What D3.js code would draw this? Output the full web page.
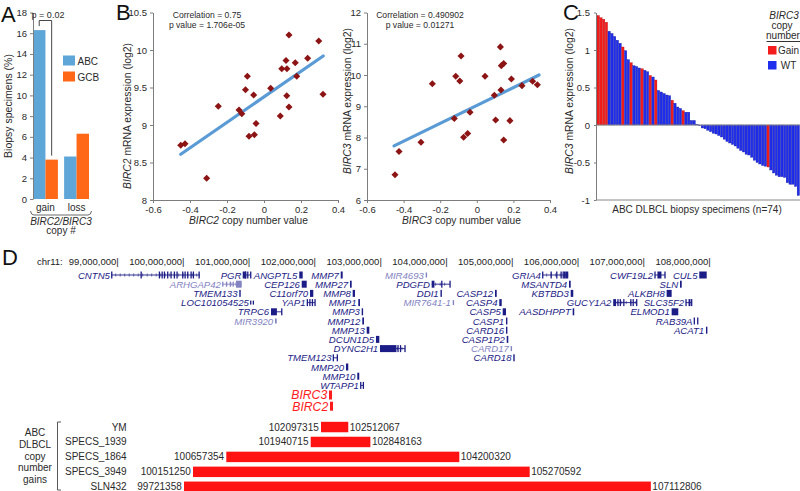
<!DOCTYPE html>
<html>
<head>
<meta charset="utf-8">
<script src="https://cdn.jsdelivr.net/npm/d3@7"></script>
<style>
body { margin: 0; background: #fff; }
svg { display: block; }
</style>
</head>
<body>
<svg id="fig" width="800" height="491"></svg>
<script>
// ---------- panel A: CNV frequency ----------
const cnvGroups = ["gain", "loss"];
const subtypes = ["ABC", "GCB"];
const abcPct = [16.3, 4.1];
const gcbPct = [3.8, 6.3];
const pctTicks = [0, 2, 4, 6, 8, 10, 12, 14, 16, 18];

// ---------- panel B: copy number vs expression ----------
const birc2Copy = [-0.45, -0.427, -0.31, -0.247, -0.135, -0.12, -0.1, -0.09, -0.081, -0.056, -0.052, -0.043,
  0.036, 0.088, 0.096, 0.119, 0.124, 0.123, 0.135, 0.135, 0.169, 0.177, 0.236, 0.296, 0.319];
const birc2Expr = [8.73, 8.75, 8.29, 9.25, 9.2, 9.15, 9.47, 9.65, 8.85, 9.4, 8.87, 9.02,
  9.49, 9.12, 9.75, 9.86, 9.75, 9.39, 9.24, 10.2, 9.83, 9.65, 9.89, 10.12, 9.41];
const birc2Fit = [[-0.45, 8.61], [0.32, 9.92]];
const birc3Copy = [-0.447, -0.425, -0.305, -0.243, -0.123, -0.115, -0.093, -0.086, -0.072, -0.05, -0.037, 0.045,
  0.096, 0.103, 0.129, 0.132, 0.134, 0.147, 0.147, 0.181, 0.189, 0.247, 0.305, 0.331];
const birc3Expr = [6.81, 7.55, 7.85, 9.72, 8.61, 9.96, 9.81, 10.61, 8.01, 8.13, 8.81, 9.96,
  9.35, 8.56, 10.9, 9.52, 10.3, 10.37, 7.92, 8.54, 9.87, 9.66, 9.8, 9.69];
const birc3Fit = [[-0.452, 7.73], [0.34, 10.0]];

// ---------- panel C: waterfall ----------
const waterfallExpr = [1.46, 1.43, 1.41, 1.37, 1.25, 1.22, 1.18, 1.13, 1.09, 1.04, 0.99, 0.87, 0.83, 0.79,
  0.78, 0.76, 0.75, 0.73, 0.71, 0.66, 0.64, 0.60, 0.46, 0.44, 0.42, 0.40, 0.39, 0.33, 0.29, 0.24,
  0.22, 0.19, 0.17, 0.17, 0.06, 0.06, 0.01, -0.01,
  -0.04, -0.05, -0.07, -0.09, -0.11, -0.12, -0.14, -0.16, -0.19, -0.22, -0.24, -0.26, -0.28, -0.31,
  -0.34, -0.36, -0.39, -0.40, -0.43, -0.47, -0.50, -0.52, -0.54, -0.55, -0.56, -0.60, -0.64, -0.67,
  -0.69, -0.69, -0.70, -0.77, -0.79, -0.79, -0.82, -0.94];
const gainIdx = [0, 1, 2, 3, 9, 12, 16, 19, 21, 27, 31, 62];
const statusLabels = ["Gain", "WT"];
const expTicks = [-1, -0.5, 0, 0.5, 1, 1.5];

// ---------- panel D: chr11 genes (Mb), lane, kind 0=gene 1=predicted 2=highlight ----------
const rulerTicks = [99e6, 100e6, 101e6, 102e6, 103e6, 104e6, 105e6, 106e6, 107e6, 108e6];
const genes = [
  ["CNTN5", 1, 98.915, 100.257, 0], ["PGR", 1, 100.916, 101.028, 0], ["ANGPTL5", 1, 101.767, 101.819, 0],
  ["MMP7", 1, 102.397, 102.427, 0], ["MIR4693", 1, 103.689, 103.704, 1], ["GRIA4", 1, 105.468, 105.857, 0],
  ["CWF19L2", 1, 107.175, 107.327, 0], ["CUL5", 1, 107.849, 107.962, 0],
  ["ARHGAP42", 2, 100.603, 100.891, 1], ["CEP126", 2, 101.804, 101.880, 0], ["MMP27", 2, 102.538, 102.564, 0],
  ["PDGFD", 2, 103.780, 104.059, 0], ["MSANTD4", 2, 105.868, 105.894, 0], ["SLN", 2, 107.556, 107.582, 0],
  ["TMEM133", 3, 100.855, 100.876, 0], ["C11orf70", 3, 101.930, 101.980, 0], ["MMP8", 3, 102.579, 102.614, 0],
  ["DDI1", 3, 103.914, 103.935, 0], ["CASP12", 3, 104.743, 104.769, 0], ["KBTBD3", 3, 105.894, 105.933, 0],
  ["ALKBH8", 3, 107.353, 107.429, 0],
  ["LOC101054525", 4, 101.028, 101.068, 0], ["YAP1", 4, 101.889, 102.006, 0], ["MMP1", 4, 102.664, 102.690, 0],
  ["MIR7641-1", 4, 104.100, 104.115, 1], ["CASP4", 4, 104.808, 104.845, 0], ["GUCY1A2", 4, 106.541, 106.897, 0],
  ["SLC35F2", 4, 107.647, 107.733, 0],
  ["TRPC6", 5, 101.337, 101.500, 0], ["MMP3", 5, 102.716, 102.731, 0], ["CASP5", 5, 104.860, 104.910, 0],
  ["AASDHPPT", 5, 105.924, 105.948, 0], ["ELMOD1", 5, 107.429, 107.530, 0],
  ["MIR3920", 6, 101.398, 101.424, 1], ["MMP12", 6, 102.725, 102.751, 0], ["CASP1", 6, 104.910, 104.930, 0],
  ["RAB39A", 6, 107.773, 107.825, 0],
  ["MMP13", 7, 102.792, 102.832, 0], ["CARD16", 7, 104.910, 104.930, 0], ["ACAT1", 7, 107.951, 107.971, 0],
  ["DCUN1D5", 8, 102.933, 102.984, 0], ["CASP1P2", 8, 104.921, 104.945, 0],
  ["DYNC2H1", 9, 102.994, 103.374, 0], ["CARD17", 9, 104.981, 105.001, 1],
  ["TMEM123", 10, 102.284, 102.345, 0], ["CARD18", 10, 105.021, 105.036, 0],
  ["MMP20", 11, 102.477, 102.512, 0], ["MMP10", 12, 102.649, 102.679, 0], ["WTAPP1", 13, 102.701, 102.741, 0],
  ["BIRC3", 14, 102.219, 102.265, 2], ["BIRC2", 15, 102.234, 102.280, 2]
];
// exon marks (fraction along gene) and solid parts for multi-exon genes
const geneExons = {
  CNTN5: [0, 0.333, 0.54, 0.571, 0.597, 0.634, 0.672, 0.71, 0.74, 0.804, 0.831, 0.861, 0.899, 0.925, 0.99],
  ARHGAP42: [0, 0.2, 0.4, 0.55], PGR: [0, 0.3, 0.6, 1], YAP1: [0, 0.33, 0.66, 1], TRPC6: [1],
  PDGFD: [0.55, 1], GRIA4: [0, 0.33, 0.55, 0.72, 0.8, 0.85], GUCY1A2: [0.2, 0.3, 0.45, 0.75, 0.85, 1],
  CWF19L2: [0, 1], DYNC2H1: [0.72, 0.82, 1], TMEM123: [0, 1], WTAPP1: [0, 1], RAB39A: [0, 1],
  SLC35F2: [0, 1], LOC101054525: [0, 1]
};
const geneSolid = {
  ARHGAP42: [0.7, 1], PGR: [0.1, 0.4], TRPC6: [0, 0.55], PDGFD: [0, 0.15], GRIA4: [0.88, 1],
  GUCY1A2: [0, 0.12], CWF19L2: [0.25, 0.65], DYNC2H1: [0, 0.66], SLC35F2: [0.45, 0.8]
};

// ---------- panel D: copy number gains ----------
const gainSamples = ["YM", "SPECS_1939", "SPECS_1864", "SPECS_3949", "SLN432"];
const gainStart = [102097315, 101940715, 100657354, 100151250, 99721358];
const gainEnd = [102512067, 102848163, 104200320, 105270592, 107112806];
const gainGroupLines = ["ABC", "DLBCL", "copy", "number", "gains"];

// ======================================================================
const FONT = '"Liberation Sans", Arial, Helvetica, sans-serif';
const TXT = "#2a2a2a";
const AX = "#7d7d7d";
const svg = d3.select("#fig").attr("font-family", FONT);
svg.append("rect").attr("width", 800).attr("height", 491).attr("fill", "#fff");

function styleAxis(g, fs) {
  g.select(".domain").attr("stroke", AX);
  g.selectAll(".tick line").attr("stroke", AX);
  g.selectAll(".tick text").attr("fill", TXT).attr("font-size", fs).attr("font-family", FONT);
}
const numFmt = d => String(+d.toFixed(1));

// text with italic pieces: parts = [[str, italic], ...]
function richText(g, x, y, parts, size, anchor, rotate) {
  const t = g.append("text").attr("font-size", size).attr("fill", TXT)
    .attr("text-anchor", anchor || "middle");
  if (rotate) t.attr("transform", `translate(${x},${y}) rotate(-90)`);
  else t.attr("x", x).attr("y", y);
  parts.forEach(p => t.append("tspan").text(p[0]).attr("font-style", p[1] ? "italic" : null));
  return t;
}
function letter(s, x, y) {
  svg.append("text").attr("x", x).attr("y", y).attr("font-size", 22).attr("fill", "#111").text(s);
}

// ---------------- A ----------------
letter("A", 1, 22);
const gA = svg.append("g");
const yA = d3.scaleLinear([0, 18], [199, 12.5]);
const xA = d3.scaleBand(cnvGroups, [33, 89]).paddingInner(0.2);
const xSub = d3.scaleBand(subtypes, [0, xA.bandwidth()]);
const subColor = d3.scaleOrdinal(subtypes, ["#5ea6d8", "#ff6816"]);
const aData = cnvGroups.flatMap((g, i) => [{ g, s: "ABC", v: abcPct[i] }, { g, s: "GCB", v: gcbPct[i] }]);
gA.selectAll("rect.bar").data(aData).join("rect")
  .attr("x", d => xA(d.g) + xSub(d.s)).attr("y", d => yA(d.v))
  .attr("width", xSub.bandwidth()).attr("height", d => yA(0) - yA(d.v))
  .attr("fill", d => subColor(d.s));
gA.append("g").attr("transform", "translate(33,0)")
  .call(d3.axisLeft(yA).tickValues(pctTicks).tickSize(3).tickSizeOuter(0).tickPadding(3))
  .call(g => styleAxis(g, 9.5));
richText(gA, 12, 106, [["Biopsy specimens (%)", false]], 10.5, "middle", true);
gA.selectAll("text.grp").data(cnvGroups).join("text")
  .attr("x", d => xA(d) + xA.bandwidth() / 2).attr("y", 211)
  .attr("text-anchor", "middle").attr("font-size", 10).attr("fill", TXT).text(d => d);
gA.append("path").attr("d", "M30.5,211 Q31,215 34,215 H88 Q91,215 91.5,211")
  .attr("fill", "none").attr("stroke", "#444").attr("stroke-width", 0.8);
richText(gA, 61, 224.5, [["BIRC2/BIRC3", true]], 10, "middle");
richText(gA, 61, 234, [["copy #", false]], 10, "middle");
// p-value bracket between ABC and GCB gain
const pxL = xA("gain") + xSub("ABC") + xSub.bandwidth() / 2;
const pxR = xA("gain") + xSub("GCB") + xSub.bandwidth() / 2;
const pyTop = 20.5;
gA.append("path")
  .attr("d", `M${pxL},${yA(abcPct[0]) - 4} V${pyTop} H${pxR} V${yA(gcbPct[0]) - 4}`)
  .attr("fill", "none").attr("stroke", "#333").attr("stroke-width", 0.9);
gA.append("text").attr("x", 48).attr("y", 18).attr("text-anchor", "middle")
  .attr("font-size", 9).attr("fill", TXT).text("p = 0.02");
subtypes.forEach((s, i) => {
  gA.append("rect").attr("x", 63).attr("y", 55.5 + i * 16).attr("width", 12).attr("height", 10).attr("fill", subColor(s));
  gA.append("text").attr("x", 77.5).attr("y", 64.5 + i * 16).attr("font-size", 10).attr("fill", TXT).text(s);
});

// ---------------- B ----------------
letter("B", 116, 20);
function scatter(opt) {
  const g = svg.append("g");
  const x = d3.scaleLinear([-0.6, 0.4], opt.xr);
  const y = d3.scaleLinear(opt.yd, [200, 12.5]);
  g.append("g").attr("transform", `translate(0,200)`)
    .call(d3.axisBottom(x).tickValues([-0.6, -0.4, -0.2, 0, 0.2, 0.4]).tickFormat(numFmt).tickSize(3).tickSizeOuter(0))
    .call(a => styleAxis(a, 9.5));
  g.append("g").attr("transform", `translate(${opt.xr[0]},0)`)
    .call(d3.axisLeft(y).tickValues(opt.yt).tickFormat(numFmt).tickSize(3).tickSizeOuter(0))
    .call(a => styleAxis(a, 9.5));
  g.append("line")
    .attr("x1", x(opt.fit[0][0])).attr("y1", y(opt.fit[0][1]))
    .attr("x2", x(opt.fit[1][0])).attr("y2", y(opt.fit[1][1]))
    .attr("stroke", "#5b9bd5").attr("stroke-width", 3.2).attr("stroke-linecap", "round");
  const diamond = d3.symbol(d3.symbolSquare, 25)();
  g.selectAll("path.pt").data(opt.xs.map((v, i) => [v, opt.ys[i]])).join("path")
    .attr("d", diamond).attr("fill", "#8c1414")
    .attr("transform", d => `translate(${x(d[0])},${y(d[1])}) rotate(45)`);
  g.append("text").attr("x", opt.cx).attr("y", 18).attr("text-anchor", "middle")
    .attr("font-size", 8.6).attr("fill", TXT).text(opt.corr);
  g.append("text").attr("x", opt.cx).attr("y", 28).attr("text-anchor", "middle")
    .attr("font-size", 8.6).attr("fill", TXT).text(opt.pval);
  richText(g, opt.yl[0], opt.yl[1], [[opt.gene, true], [" mRNA expression (log2)", false]], 10.4, "middle", true);
  richText(g, (opt.xr[0] + opt.xr[1]) / 2 + 3, 224, [[opt.gene, true], [" copy number value", false]], 10.2, "middle");
}
scatter({ xr: [153, 338], yd: [8, 10.5], yt: [8, 8.5, 9, 9.5, 10, 10.5], xs: birc2Copy, ys: birc2Expr,
  fit: birc2Fit, cx: 207, corr: "Correlation = 0.75", pval: "p value = 1.706e-05", gene: "BIRC2", yl: [131, 116] });
scatter({ xr: [367, 550], yd: [6, 12], yt: [6, 7, 8, 9, 10, 11, 12], xs: birc3Copy, ys: birc3Expr,
  fit: birc3Fit, cx: 420, corr: "Correlation = 0.490902", pval: "p value = 0.01271", gene: "BIRC3", yl: [351, 101] });

// ---------------- C ----------------
letter("C", 563, 20);
const gC = svg.append("g");
const xC = d3.scaleBand(d3.range(waterfallExpr.length), [597, 799.5]).paddingInner(0.14);
const yC = d3.scaleLinear([-1, 1.5], [200, 12.5]);
const statusColor = d3.scaleOrdinal(statusLabels, ["#f41c1c", "#1f2ded"]);
const wfData = waterfallExpr.map((v, i) => ({ i, v, s: gainIdx.includes(i) ? "Gain" : "WT" }));
gC.selectAll("rect.wf").data(wfData).join("rect")
  .attr("x", d => xC(d.i)).attr("width", xC.bandwidth())
  .attr("y", d => yC(Math.max(0, d.v))).attr("height", d => Math.abs(yC(d.v) - yC(0)))
  .attr("fill", d => statusColor(d.s))
  .attr("stroke", d => d.s === "Gain" ? "#b01010" : "#12189a").attr("stroke-width", 0.35);
gC.append("line").attr("x1", 596).attr("x2", 800).attr("y1", yC(0)).attr("y2", yC(0)).attr("stroke", "#888");
gC.append("line").attr("x1", 596).attr("x2", 800).attr("y1", yC(-1)).attr("y2", yC(-1)).attr("stroke", "#888");
gC.append("g").attr("transform", "translate(596,0)")
  .call(d3.axisLeft(yC).tickValues(expTicks).tickFormat(numFmt).tickSize(2).tickSizeOuter(0).tickPadding(4))
  .call(a => styleAxis(a, 9.5));
richText(gC, 573, 101, [["BIRC3", true], [" mRNA expression (log2)", false]], 10.4, "middle", true);
richText(gC, 697, 213, [["ABC DLBCL biopsy specimens (n=74)", false]], 10, "middle");
richText(gC, 784, 18.5, [["BIRC3", true]], 10, "middle");
richText(gC, 782, 28.5, [["copy", false]], 10, "middle");
richText(gC, 783, 38.5, [["number", false]], 10, "middle");
gC.append("line").attr("x1", 766.5).attr("x2", 800).attr("y1", 41.5).attr("y2", 41.5).attr("stroke", "#333");
statusLabels.forEach((s, i) => {
  gC.append("rect").attr("x", 768).attr("y", 46 + i * 15).attr("width", 8.5).attr("height", 8.5).attr("fill", statusColor(s));
  gC.append("text").attr("x", 788.5).attr("y", 54 + i * 15).attr("text-anchor", "middle")
    .attr("font-size", 10).attr("fill", TXT).text(s);
});

// ---------------- D ----------------
letter("D", 2, 265);
const gD = svg.append("g");
const xG = d3.scaleLinear([99e6, 108e6], [117.3, 709.2]);
gD.append("text").attr("x", 37).attr("y", 264.5).attr("font-size", 9.5).attr("fill", "#222").text("chr11:");
gD.selectAll("text.rt").data(rulerTicks).join("text")
  .attr("x", d => xG(d) + 1.5).attr("y", 264.5).attr("text-anchor", "end")
  .attr("font-size", 9.5).attr("fill", "#222").text(d => d3.format(",")(d) + "|");

const laneY = r => r <= 13 ? 275 + (r - 1) * 9.2 : 383.8 + (r - 13) * 11.2;
const kindColor = ["#1c1c86", "#8383c2", "#ff1c1c"];
genes.forEach(([name, row, s, e, kind]) => {
  const y = laneY(row);
  const col = kindColor[kind];
  const x0 = xG(s * 1e6);
  const x1 = Math.max(xG(e * 1e6), x0 + 1.4);
  const w = x1 - x0;
  const g = gD.append("g");
  g.append("text").attr("x", x0 - 1.8).attr("y", y + (kind === 2 ? 4.3 : 3.5))
    .attr("text-anchor", "end").attr("font-style", "italic")
    .attr("font-size", kind === 2 ? 12.2 : 9.6).attr("fill", col).text(name);
  const ex = geneExons[name], solid = geneSolid[name];
  const h = kind === 1 ? 5 : name === "LOC101054525" ? 4 : 7;
  if (ex || solid) {
    if (name !== "LOC101054525" && name !== "RAB39A")
      g.append("line").attr("x1", x0).attr("x2", x1).attr("y1", y).attr("y2", y).attr("stroke", col).attr("stroke-width", 0.9);
    if (w > 15) {
      // intron direction marks
      d3.range(x0 + 4, x1 - 1, 4.5).forEach(tx => g.append("line")
        .attr("x1", tx).attr("x2", tx).attr("y1", y - 1.6).attr("y2", y + 1.6)
        .attr("stroke", col).attr("stroke-width", 0.6));
    }
    (ex || []).forEach(f => g.append("rect").attr("x", x0 + f * w - 0.6).attr("y", y - h / 2)
      .attr("width", 1.3).attr("height", h).attr("fill", col));
    if (solid) g.append("rect").attr("x", x0 + solid[0] * w).attr("y", y - 3.5)
      .attr("width", (solid[1] - solid[0]) * w).attr("height", 7).attr("fill", col);
  } else {
    g.append("rect").attr("x", x0).attr("y", y - (kind === 2 ? 4.5 : h / 2)).attr("width", w)
      .attr("height", kind === 2 ? 9 : h).attr("fill", col);
  }
});

// copy number gain segments
const yS = d3.scaleBand(gainSamples, [421.8, 492]).paddingInner(0.3);
gainGroupLines.forEach((t, i) => gD.append("text").attr("x", 35).attr("y", 436.3 + i * 11.7)
  .attr("text-anchor", "middle").attr("font-size", 10).attr("fill", TXT).text(t));
gD.append("path").attr("d", "M61,422 H57.5 V490 H61").attr("fill", "none").attr("stroke", "#444").attr("stroke-width", 0.9);
gainSamples.forEach((name, i) => {
  const yc = yS(name) + yS.bandwidth() / 2;
  gD.append("text").attr("x", 126.7).attr("y", yc + 3.5).attr("text-anchor", "end")
    .attr("font-size", 10).attr("fill", TXT).text(name);
  const lab = gD.append("text").attr("y", yc + 3.5).attr("text-anchor", "end")
    .attr("font-size", 10).attr("fill", TXT).text(gainStart[i]);
  const lw = lab.node().getComputedTextLength();
  const x0 = Math.max(xG(gainStart[i]), 137 + lw + 2.5);
  const x1 = xG(gainEnd[i]);
  lab.attr("x", x0 - 2.2);
  gD.append("rect").attr("x", x0).attr("y", yS(name)).attr("width", x1 - x0).attr("height", yS.bandwidth())
    .attr("fill", "#ff1212");
  gD.append("text").attr("x", x1 + 1.5).attr("y", yc + 3.5).attr("font-size", 10).attr("fill", TXT).text(gainEnd[i]);
});
</script>
</body>
</html>
